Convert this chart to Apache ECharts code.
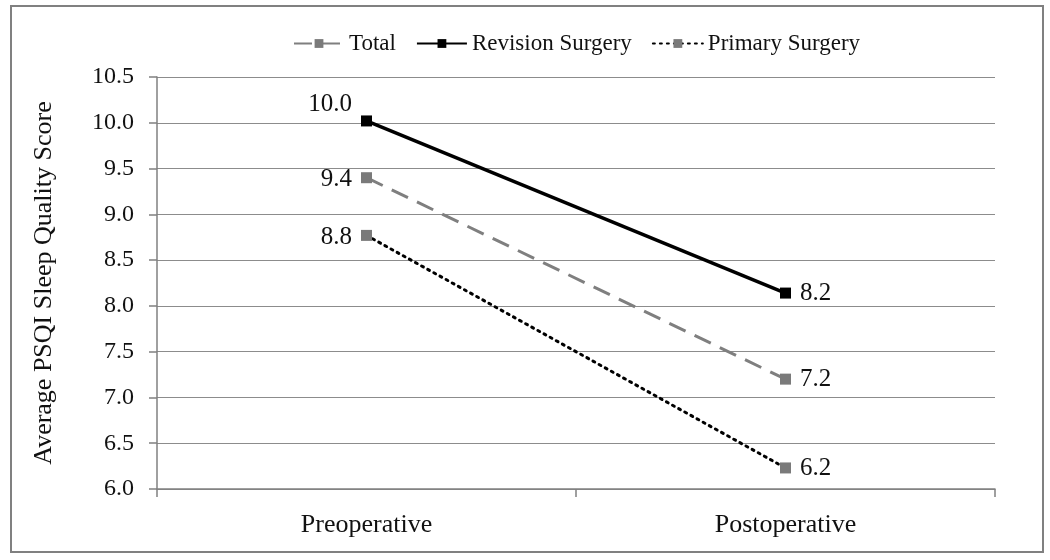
<!DOCTYPE html>
<html>
<head>
<meta charset="utf-8">
<script src="https://cdn.jsdelivr.net/npm/echarts@6/dist/echarts.min.js"></script>
<style>html,body{margin:0;padding:0;background:#fff}#c{width:1050px;height:560px}</style>
</head>
<body>
<div id="c"></div>
<script>
var categories = ['Preoperative', 'Postoperative'];
var totalValues = [9.40, 7.20];
var revisionValues = [10.02, 8.14];
var primaryValues = [8.77, 6.23];
var yTicks = [6.0, 10.5, 0.5];
var labelsText = {
  Total: ['9.4', '7.2'],
  'Revision Surgery': ['10.0', '8.2'],
  'Primary Surgery': ['8.8', '6.2']
};

var font = 'Liberation Serif';
function mkData(name, vals, preOffset) {
  return vals.map(function (v, i) {
    return {
      value: v,
      label: {
        show: true,
        position: i === 0 ? 'left' : 'right',
        distance: 9,
        offset: i === 0 ? preOffset : [0, 0],
        formatter: labelsText[name][i],
        fontFamily: font,
        fontSize: 25,
        color: '#111'
      }
    };
  });
}

var chart = echarts.init(document.getElementById('c'));
chart.setOption({
  animation: false,
  backgroundColor: '#fff',
  graphic: [{
    type: 'rect',
    shape: { x: 11, y: 6, width: 1032, height: 546 },
    style: { fill: 'none', stroke: '#808080', lineWidth: 2 },
    silent: true
  }],
  legend: {
    top: 27,
    left: 288,
    itemWidth: 50,
    itemHeight: 11,
    itemGap: 20,
    textStyle: { fontFamily: font, fontSize: 23, color: '#111' },
    data: ['Total', 'Revision Surgery', 'Primary Surgery']
  },
  grid: { left: 157, right: 55, top: 77, bottom: 71, containLabel: false },
  xAxis: {
    type: 'category',
    data: categories,
    boundaryGap: true,
    axisLine: { lineStyle: { color: '#808080', width: 1.5 } },
    axisTick: { show: true, length: 8, lineStyle: { color: '#808080', width: 1.5 } },
    axisLabel: { fontFamily: font, fontSize: 26, color: '#111', margin: 23 }
  },
  yAxis: {
    type: 'value',
    min: yTicks[0],
    max: yTicks[1],
    interval: yTicks[2],
    name: 'Average PSQI Sleep Quality Score',
    nameLocation: 'middle',
    nameGap: 100,
    nameTextStyle: { fontFamily: font, fontSize: 26, color: '#111' },
    axisLine: { show: true, lineStyle: { color: '#808080', width: 1.5 } },
    axisTick: { show: true, length: 8, lineStyle: { color: '#808080', width: 1.5 } },
    splitLine: { lineStyle: { color: '#8c8c8c', width: 1.2 } },
    axisLabel: {
      fontFamily: font, fontSize: 24, color: '#111', margin: 23,
      formatter: function (v) { return v.toFixed(1); }
    }
  },
  series: [
    {
      name: 'Total', type: 'line',
      data: mkData('Total', totalValues, [0, 2]),
      symbol: 'rect', symbolSize: 11,
      lineStyle: { color: '#7f7f7f', width: 3, type: [18, 10] },
      itemStyle: { color: '#7a7a7a' },
      z: 2
    },
    {
      name: 'Revision Surgery', type: 'line',
      data: mkData('Revision Surgery', revisionValues, [0, -17]),
      symbol: 'rect', symbolSize: 11,
      lineStyle: { color: '#000', width: 3.5, type: 'solid' },
      itemStyle: { color: '#000' },
      z: 3
    },
    {
      name: 'Primary Surgery', type: 'line',
      data: mkData('Primary Surgery', primaryValues, [0, 2]),
      symbol: 'rect', symbolSize: 11,
      lineStyle: { color: '#000', width: 3, type: [2, 5], cap: 'round' },
      itemStyle: { color: '#7a7a7a' },
      z: 2
    }
  ]
});
</script>
</body>
</html>
